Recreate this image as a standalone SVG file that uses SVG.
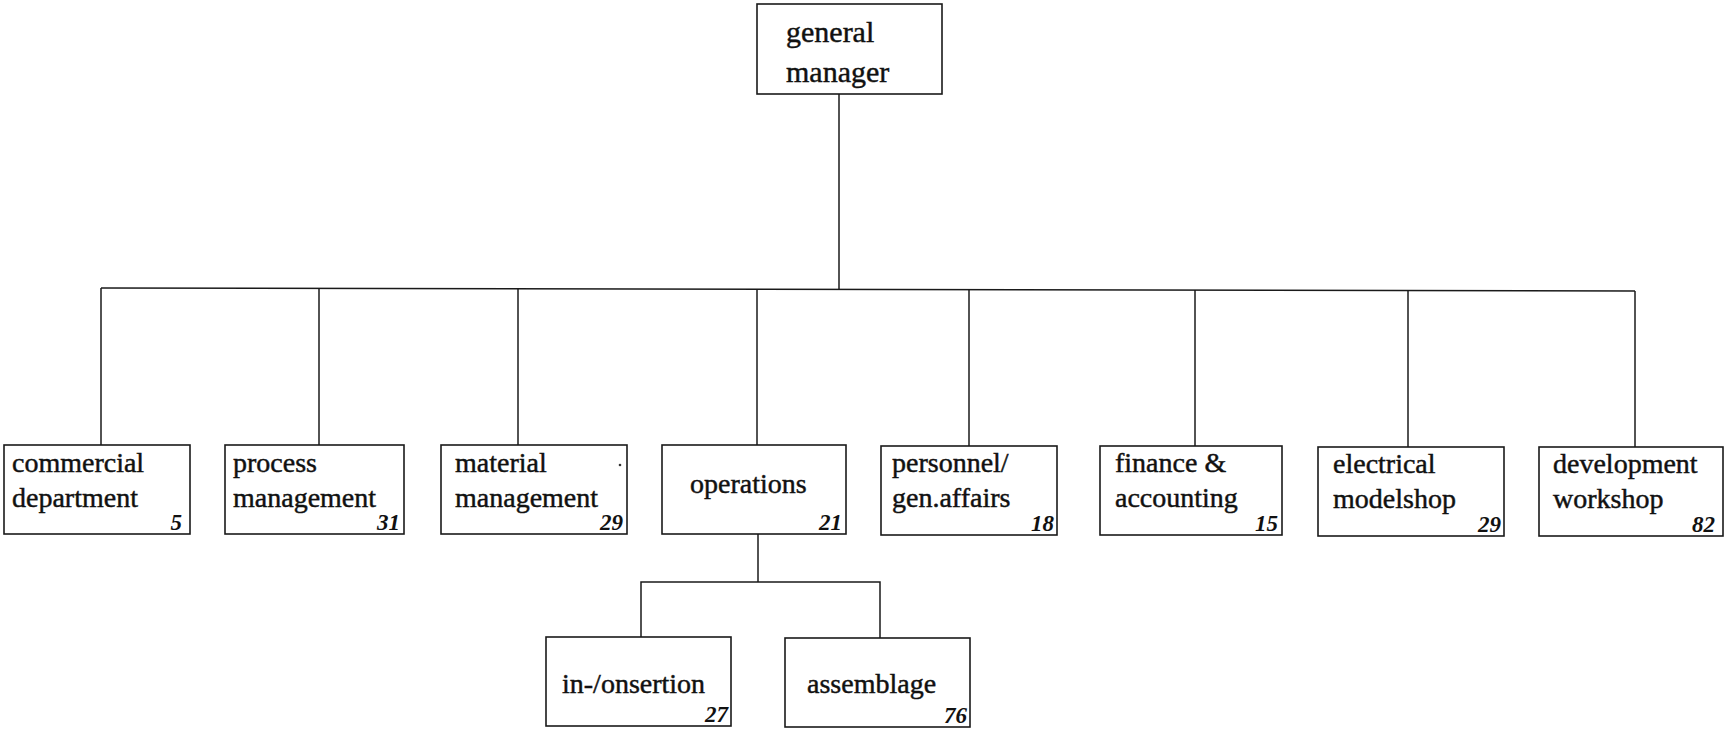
<svg xmlns="http://www.w3.org/2000/svg" width="1726" height="730" viewBox="0 0 1726 730">
  <style>
    .box { fill: #ffffff; stroke: #1a1a1a; stroke-width: 1.6; }
    .wire { fill: none; stroke: #1a1a1a; stroke-width: 1.5; }
    .lbl { font-family: "Liberation Serif", "Times New Roman", serif; font-size: 28px; fill: #111111; stroke: #111111; stroke-width: 0.45; }
    .top { font-size: 30px; }
    .num { font-family: "Liberation Serif", "Times New Roman", serif; font-size: 23px; font-style: italic; font-weight: bold; fill: #111111; text-anchor: end; }
  </style>
  <rect width="1726" height="730" fill="#ffffff"/>

  <!-- connectors -->
  <g id="connectors" class="wire">
    <line x1="839" y1="94" x2="839" y2="289"/>
    <polyline points="101,288 1635,291"/>
    <line x1="101" y1="288" x2="101" y2="445"/>
    <line x1="319" y1="288" x2="319" y2="445"/>
    <line x1="518" y1="289" x2="518" y2="445"/>
    <line x1="757" y1="289" x2="757" y2="445"/>
    <line x1="969" y1="289" x2="969" y2="446"/>
    <line x1="1195" y1="290" x2="1195" y2="446"/>
    <line x1="1408" y1="290" x2="1408" y2="447"/>
    <line x1="1635" y1="291" x2="1635" y2="447"/>
    <line x1="758" y1="534" x2="758" y2="582"/>
    <polyline points="641,637 641,582 880,582 880,638"/>
  </g>

  <!-- top node -->
  <g id="general-manager">
    <rect class="box" x="757" y="4" width="185" height="90"/>
    <text class="lbl top" x="786" y="42">general</text>
    <text class="lbl top" x="786" y="82">manager</text>
  </g>

  <!-- department row -->
  <g id="commercial-department">
    <rect class="box" x="4" y="445" width="186" height="89"/>
    <text class="lbl" x="12" y="472">commercial</text>
    <text class="lbl" x="12" y="507">department</text>
    <text class="num" x="182" y="530">5</text>
  </g>
  <g id="process-management">
    <rect class="box" x="225" y="445" width="179" height="89"/>
    <text class="lbl" x="233" y="472">process</text>
    <text class="lbl" x="233" y="507">management</text>
    <text class="num" x="400" y="530">31</text>
  </g>
  <g id="material-management">
    <rect class="box" x="441" y="445" width="186" height="89"/>
    <text class="lbl" x="455" y="472">material</text>
    <text class="lbl" x="455" y="507">management</text>
    <text class="num" x="623" y="530">29</text>
    <circle cx="620" cy="465" r="1.3" fill="#333333"/>
  </g>
  <g id="operations">
    <rect class="box" x="662" y="445" width="184" height="89"/>
    <text class="lbl" x="690" y="493">operations</text>
    <text class="num" x="842" y="530">21</text>
  </g>
  <g id="personnel-gen-affairs">
    <rect class="box" x="881" y="446" width="176" height="89"/>
    <text class="lbl" x="892" y="472">personnel/</text>
    <text class="lbl" x="892" y="507">gen.affairs</text>
    <text class="num" x="1054" y="531">18</text>
  </g>
  <g id="finance-accounting">
    <rect class="box" x="1100" y="446" width="182" height="89"/>
    <text class="lbl" x="1115" y="472">finance &amp;</text>
    <text class="lbl" x="1115" y="507">accounting</text>
    <text class="num" x="1278" y="531">15</text>
  </g>
  <g id="electrical-modelshop">
    <rect class="box" x="1318" y="447" width="186" height="89"/>
    <text class="lbl" x="1333" y="473">electrical</text>
    <text class="lbl" x="1333" y="508">modelshop</text>
    <text class="num" x="1501" y="532">29</text>
  </g>
  <g id="development-workshop">
    <rect class="box" x="1539" y="447" width="184" height="89"/>
    <text class="lbl" x="1553" y="473">development</text>
    <text class="lbl" x="1553" y="508">workshop</text>
    <text class="num" x="1715" y="532">82</text>
  </g>

  <!-- operations sub-units -->
  <g id="in-onsertion">
    <rect class="box" x="546" y="637" width="185" height="89"/>
    <text class="lbl" x="562" y="693">in-/onsertion</text>
    <text class="num" x="728" y="722">27</text>
  </g>
  <g id="assemblage">
    <rect class="box" x="785" y="638" width="185" height="89"/>
    <text class="lbl" x="807" y="693">assemblage</text>
    <text class="num" x="967" y="723">76</text>
  </g>
</svg>
